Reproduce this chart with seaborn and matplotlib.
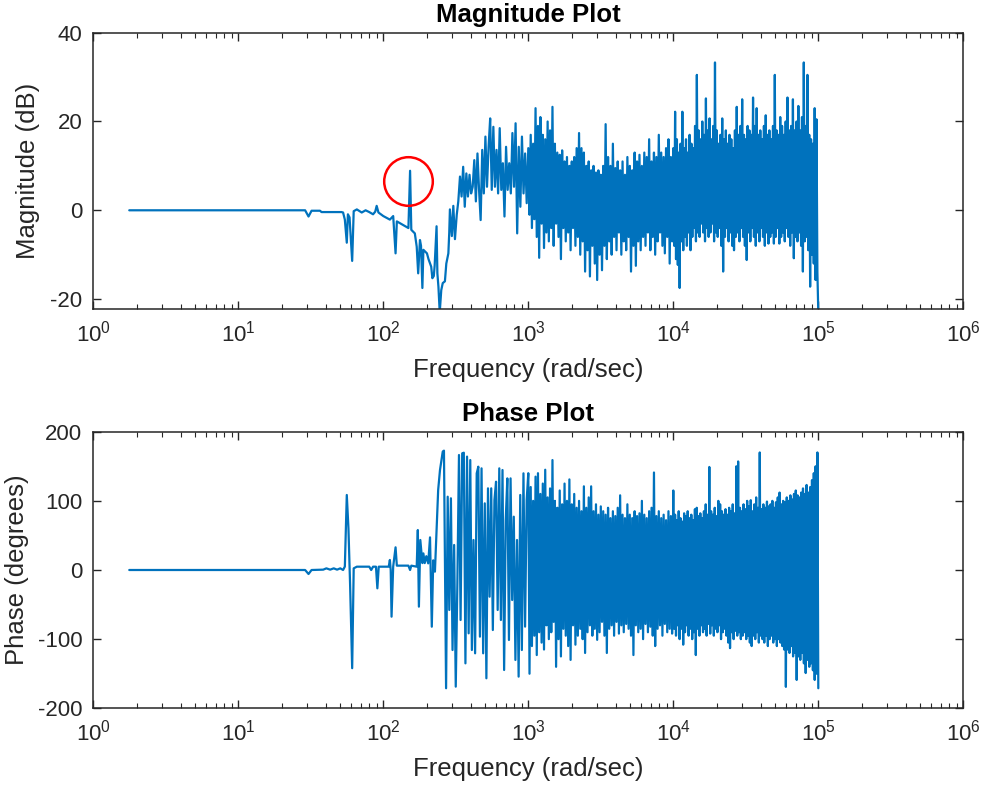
import numpy as np
import matplotlib
matplotlib.use("Agg")
import matplotlib.pyplot as plt
import seaborn as sns
from matplotlib.ticker import FixedLocator, NullFormatter, FuncFormatter

# ---------------- data ----------------
# Magnitude, low-frequency (structured) part
mag_low_freq = [1.77, 28.9, 30.5, 32.0, 36.6, 37.5, 51.5, 52.8, 54.3, 56.0, 57.0, 58.5,
                61.0, 62.5, 65.7, 71.0, 75.5, 80.0, 85.0, 88.0, 90.0, 92.6, 100, 111,
                117, 121.5, 124, 137, 149, 153, 156, 165, 170, 174, 179, 182, 186, 189,
                200, 205, 214, 218, 223, 226, 233, 236, 240, 245, 251, 257, 266, 272,
                281, 285, 288, 297, 304, 312, 321, 329]
mag_low_db = [0, 0, -1.4, -0.1, -0.1, -0.4, -0.4, -0.5, -2.1, -7.3, -0.9, -1.6,
              -11.4, -0.2, 0.2, -0.5, 0.0, -0.4, -0.9, -0.3, 1.0, -0.5, -1.3, -2.1,
              -1.3, -9.7, -2.5, -3.3, -4.0, 8.9, -4.4, -5.2, -8.2, -14.2, -6.7, -8.0, -17.5, -8.9,
              -9.7, -11.0, -12.7, -15.3, -14.8, -12.5, -3.6, -14.2, -17.2, -23.0, -18.0, -16.4, -16.0, -12.0,
              -9.7, -5.0, 0.2, -5.8, 1.0, -6.5, -1.0, 2.0]

# Magnitude, 338..1000 rad/s
mag_A_db = [7.6, 3.1, 9.8, 0.8, 8.3, 3.1, 8.0, 3.8, 5.3, 11.3, 2.0, 12.8, 4.6, -2.2, 13.6,
            3.8, 16.6, 5.3, 14.3, 20.7, 4.6, 18.8, 5.3, 13.6, 3.8, 18.5, 4.6, 10.6, -1.4,
            14.3, 4.6, 10.6, 3.8, 17.4, 5.3, 19.6, -5.2, 14.3, 0.8, 16.6, 3.8, 12.8, 1.6]

# Magnitude, 1e3..1e4 rad/s : local maxima / minima of the dense band
mag_B_peaks = [14, 17, 15, 23, 19, 21, 17, 16, 20, 18,
               23.3, 15, 13, 12.5, 13.5, 11, 12, 10, 11, 12,
               14, 17.4, 14, 13, 10, 11, 9, 10, 8.5, 9,
               8, 10, 19.4, 12, 10, 15, 9.5, 11, 9, 11,
               8, 12, 10, 9, 13, 11, 12.5, 10, 13, 12,
               16, 11, 13, 12, 17, 13, 12, 14, 16, 12]
mag_B_troughs = [-1, -4, -2, -6, -10.7, -3, -8.5, -5, -7, -4,
                 -8, -3, -6, -11, -4, -7, -5, -9, -4, -8,
                 -6, -10, -7, -13.8, -9, -14.9, -8, -12, -15.7, -10,
                 -13.5, -8, -11, -7, -10, -6, -9, -5, -10, -7,
                 -9, -6, -13.8, -8, -12.5, -7, -9, -6, -8, -5,
                 -9, -6, -10, -7, -5, -8, -9.7, -6, -12, -7]

# Magnitude, 1e4..1e5 rad/s
mag_C_peaks = [14, 22.2, 16, 13, 15, 22.2, 14, 16, 13, 17,
               15, 14, 19, 30.5, 18, 16, 20, 17, 25.2, 18,
               20.7, 16, 19, 33.3, 18, 15, 17, 20.7, 16, 18,
               15, 17, 16, 14, 18, 23.3, 17, 19, 25, 17,
               16, 19, 18, 17, 25.4, 19, 23, 17, 18, 16,
               19, 21.4, 17, 18, 16, 19, 30.5, 18, 17, 21,
               19, 17, 20, 25.4, 18, 19, 25, 18, 20, 23.5,
               18, 21, 33.3, 19, 30.5, 17, 16, 15, 23, 20.5]
mag_C_troughs = [-8, -11, -12.3, -17.5, -7, -9, -6, -8, -5, -9,
                 -6, -4, -7, -5, -6, -3, -5, -7, -4, -6,
                 -5, -3, -7, -5, -6, -4, -8, -13.8, -6, -4,
                 -7, -5, -8, -9, -6, -5, -7, -4, -6, -8,
                 -11.2, -5, -7, -4, -6, -8, -5, -7, -4, -6,
                 -8, -5, -7.5, -6, -5, -7.5, -6, -4, -7.5, -6,
                 -5, -7, -4, -6, -8, -5, -10.8, -6, -7, -5,
                 -8, -13.8, -7, -6, -9, -17.2, -10, -12, -15.7, -14]
mag_end_db = [-23.0]

# Phase, low-frequency (structured) part
ph_low_freq = [1.77, 28.9, 30.5, 32.0, 38.5, 40.5, 43.0, 45.5, 48.0, 50.5, 52.8, 54.3,
               56.0, 57.5, 59.0, 61.0, 62.5, 65.7, 80.0, 82.5, 85.0, 89.0, 91.0, 93.0,
               109, 111, 112.5, 114, 117, 121.5, 124, 149, 153, 156, 170, 173, 176,
               180, 186, 189, 193, 198, 204, 210, 216, 221, 227, 233, 239, 246, 257, 262]
ph_low_deg = [0, 0, -5.8, 0, 0.5, 2.4, 0.5, 2.4, 0.5, 2.4, 0, 5,
              108.5, 60, -20, -142, 2.4, 4.8, 4.8, 0, 4.8, 4.8, -26.5, 4.8,
              4.8, 14.5, 0, -67.5, 5, 32.8, 6.3, 6.3, 0, 6.3, 4.8, 57.8, -53,
              43.4, 10, 24, 10, 20, 9.6, 47.2, -82, 14, -2.4, 57.8, 115.7, 144.6, 171.2, 172.6]

# Phase, 271..1000 rad/s
ph_A_deg = [-171, 106, -57.8, 103.7, -115.7, 36.2, -168.7, -19.3, 166.3, -72.3,
            168.7, 169.6, -135, 164, -91.6, 159, -115.7, 43.4, -120.5, 139.8,
            149.4, -96.4, 147, -120.5, 96.4, -156.6, 118.1, -38.6, 118.1, -86.8,
            101.2, 127.7, -57.8, 147, -72.3, 144.6, -144.6, 72.3, 132.5, -101.2,
            132.5, -43.4, 77.1, -130.1, 43.4, -154.2, 108.5, -115.7, 139.8, -81.9, 101.2]

# Phase, 1e3..1e4 rad/s
ph_B_peaks = [140, 120, 100, 135, 140, 110, 125, 145, 105, 118,
              159, 100, 90, 115, 95, 125, 100, 131, 95, 110,
              90, 100, 85, 121, 90, 105, 121, 85, 95, 80,
              92, 85, 80, 90, 75, 85, 78, 90, 108, 80,
              75, 95, 80, 75, 85, 78, 82, 100, 80, 75,
              85, 90, 141, 78, 85, 75, 80, 72, 85, 78]
ph_B_troughs = [-150, -110, -95, -123, -90, -105, -115, -80, -100, -90,
                -75, -140, -100, -125, -85, -95, -110, -130, -80, -108,
                -95, -85, -100, -120, -90, -80, -95, -85, -101, -90,
                -75, -95, -120, -85, -80, -95, -75, -92, -80, -90,
                -78, -85, -95, -123, -80, -90, -85, -100, -78, -90,
                -82, -95, -110, -85, -80, -95, -78, -90, -85, -92]

# Phase, 1e4..1e5 rad/s
ph_C_peaks = [115, 80, 72, 85, 75, 70, 82, 78, 85, 75,
              80, 72, 88, 90, 78, 82, 75, 85, 95, 80,
              149, 85, 80, 90, 78, 100, 95, 85, 80, 88,
              80, 90, 85, 95, 82, 150, 157, 90, 85, 95,
              88, 100, 92, 101, 85, 95, 105, 90, 170, 88,
              95, 90, 99, 92, 95, 100, 90, 98, 105, 112,
              95, 100, 98, 105, 100, 108, 102, 110, 115, 108,
              105, 112, 118, 110, 123, 112, 120, 130, 140, 150]
ph_C_troughs = [-85, -95, -80, -100, -85, -108, -90, -80, -95, -85,
                -100, -90, -123, -85, -95, -80, -90, -85, -95, -78,
                -92, -80, -95, -85, -90, -80, -100, -90, -85, -95,
                -105, -113, -90, -100, -88, -95, -90, -100, -95, -90,
                -100, -95, -105, -110, -95, -100, -90, -105, -95, -100,
                -105, -95, -110, -100, -95, -105, -100, -110, -100, -105,
                -110, -115, -169, -115, -120, -110, -125, -120, -159, -125,
                -130, -120, -135, -149, -130, -140, -135, -145, -159, -150]
ph_end_deg = [170, -171]

# annotation circle (data coords)
circle_freq = 148.6
circle_db = 6.7

x_ticks = [1e0, 1e1, 1e2, 1e3, 1e4, 1e5, 1e6]
mag_ticks = [-20, 0, 20, 40]
ph_ticks = [-200, -100, 0, 100, 200]


def zigzag(peaks, troughs):
    return np.column_stack([peaks, troughs]).ravel()


mag_B = zigzag(mag_B_peaks, mag_B_troughs)
mag_C = np.concatenate([zigzag(mag_C_peaks, mag_C_troughs), mag_end_db])
ph_B = zigzag(ph_B_peaks, ph_B_troughs)
ph_C = np.concatenate([zigzag(ph_C_peaks, ph_C_troughs), ph_end_deg])

# frequency sampling grids of the dense parts
mag_freq = np.concatenate([
    mag_low_freq,
    np.geomspace(338, 1000, len(mag_A_db), endpoint=False),
    np.geomspace(1000, 1e4, len(mag_B), endpoint=False),
    np.geomspace(1e4, 1e5, len(mag_C)),
])
mag_vals = np.concatenate([mag_low_db, mag_A_db, mag_B, mag_C])

ph_freq = np.concatenate([
    ph_low_freq,
    np.geomspace(271, 1000, len(ph_A_deg), endpoint=False),
    np.geomspace(1000, 1e4, len(ph_B), endpoint=False),
    np.geomspace(1e4, 1e5, len(ph_C)),
])
ph_vals = np.concatenate([ph_low_deg, ph_A_deg, ph_B, ph_C])

# ---------------- styling ----------------
sns.set_theme(style="white")
plt.rcParams['font.family'] = ['Liberation Sans', 'DejaVu Sans']
plt.rcParams['mathtext.fontset'] = 'custom'
plt.rcParams['mathtext.rm'] = 'Liberation Sans'
plt.rcParams['mathtext.it'] = 'Liberation Sans:italic'
plt.rcParams['mathtext.bf'] = 'Liberation Sans:bold'
plt.rcParams['axes.unicode_minus'] = False

BLUE = '#0072BD'
AX = '#262626'

fig = plt.figure(figsize=(9.82, 7.88), dpi=100)
W, H = 982.0, 788.0
ax1 = fig.add_axes([93.3 / W, 1 - 309.3 / H, 870 / W, 276.6 / H])
ax2 = fig.add_axes([93.3 / W, 1 - 708.3 / H, 870 / W, 276.6 / H])

minor_ticks = [m * 10.0 ** d for d in range(0, 6) for m in range(2, 10)]


def style_axes(ax, ylim, yticks):
    ax.set_xscale('log')
    ax.set_xlim(1, 1e6)
    ax.set_ylim(*ylim)
    ax.set_yticks(yticks)
    ax.xaxis.set_major_locator(FixedLocator(x_ticks))
    ax.xaxis.set_minor_locator(FixedLocator(minor_ticks))
    ax.xaxis.set_minor_formatter(NullFormatter())
    ax.xaxis.set_major_formatter(FuncFormatter(
        lambda v, p: r'$\mathregular{10^{%d}}$' % int(round(np.log10(v)))))
    ax.tick_params(which='both', direction='in', top=True, right=True,
                   bottom=True, left=True, colors=AX, labelsize=16)
    ax.tick_params(which='major', length=6, width=1.0)
    ax.tick_params(which='minor', length=3.5, width=0.8)
    ax.tick_params(axis='x', which='major', pad=8)
    ax.tick_params(axis='y', which='major', pad=8)
    for s in ax.spines.values():
        s.set_visible(True)
        s.set_color(AX)
        s.set_linewidth(1.1)
    ax.grid(False)
    ax.set_facecolor('white')


for ax in (ax1, ax2):
    ax.set_xscale('log')

sns.lineplot(x=mag_freq, y=mag_vals, ax=ax1, color=BLUE, linewidth=1.6,
             sort=False, estimator=None)
sns.lineplot(x=ph_freq, y=ph_vals, ax=ax2, color=BLUE, linewidth=1.6,
             sort=False, estimator=None)

ax1.plot([circle_freq], [circle_db], marker='o', ms=35, mfc='none',
         mec='#FF0000', mew=1.8, linestyle='none')

style_axes(ax1, (-22.3, 40), mag_ticks)
style_axes(ax2, (-200, 200), ph_ticks)

ax1.set_title('Magnitude Plot', fontsize=18.5, fontweight='bold', color='black', pad=8)
ax2.set_title('Phase Plot', fontsize=18.5, fontweight='bold', color='black', pad=8)

for ax, lab, xl in ((ax1, 'Magnitude (dB)', -0.061), (ax2, 'Phase (degrees)', -0.074)):
    ax.set_xlabel('Frequency (rad/sec)', fontsize=18.5, color=AX)
    ax.set_ylabel(lab, fontsize=18.5, color=AX)
    ax.xaxis.set_label_coords(0.5, -0.175)
    ax.yaxis.set_label_coords(xl, 0.5)

fig.savefig('out.png', dpi=100)
